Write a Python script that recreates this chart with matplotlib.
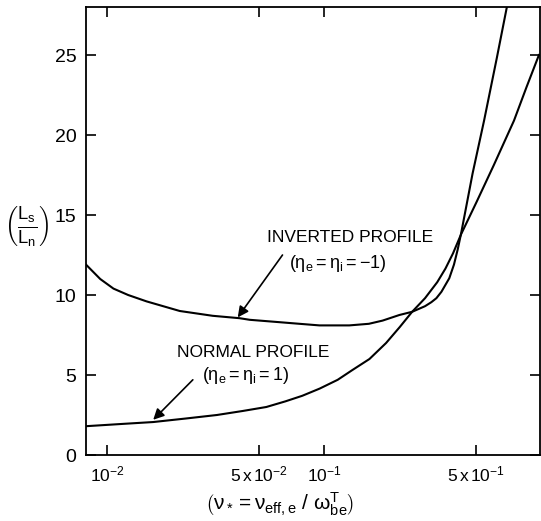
import numpy as np
import matplotlib
matplotlib.use('Agg')
import matplotlib.pyplot as plt
from matplotlib.ticker import NullLocator

plt.rcParams['font.family'] = ['Liberation Sans', 'DejaVu Sans']
plt.rcParams['mathtext.fontset'] = 'custom'
plt.rcParams['mathtext.rm'] = 'Liberation Sans'
plt.rcParams['mathtext.it'] = 'Liberation Sans'
plt.rcParams['mathtext.default'] = 'regular'

# curves
inv_x = [0.0080, 0.0093, 0.0107, 0.0125, 0.0152, 0.0216, 0.0306, 0.0407, 0.0453,
         0.0622, 0.0767, 0.0948, 0.130, 0.160, 0.185, 0.221, 0.253, 0.290, 0.310,
         0.327, 0.345, 0.375, 0.394, 0.410, 0.425, 0.480, 0.542, 0.620, 0.690]
inv_y = [11.9, 11.0, 10.4, 10.0, 9.6, 9.0, 8.7, 8.55, 8.45,
         8.3, 8.2, 8.1, 8.1, 8.2, 8.4, 8.75, 8.95, 9.3, 9.55,
         9.8, 10.2, 11.05, 11.9, 12.85, 13.85, 17.6, 20.9, 24.8, 28.0]

norm_x = [0.0080, 0.0120, 0.0163, 0.0230, 0.032, 0.042, 0.054, 0.066, 0.079,
          0.095, 0.115, 0.134, 0.161, 0.192, 0.222, 0.253, 0.290, 0.330, 0.360,
          0.390, 0.425, 0.50, 0.60, 0.744, 0.85, 0.969]
norm_y = [1.8, 1.95, 2.06, 2.28, 2.5, 2.75, 3.0, 3.35, 3.7,
          4.15, 4.7, 5.3, 6.0, 7.0, 8.0, 8.95, 9.8, 10.8, 11.65,
          12.6, 13.8, 15.8, 18.1, 20.9, 23.0, 25.0]

xticks = [0.01, 0.05, 0.1, 0.5]
xtick_labels = [r'$10^{-2}$', r'$5\,x\,10^{-2}$', r'$10^{-1}$', r'$5\,x\,10^{-1}$']
yticks = [0, 5, 10, 15, 20, 25]

fig = plt.figure(figsize=(5.41, 5.21), dpi=100)
ax = fig.add_axes([86 / 541, 1 - 455 / 521, 454 / 541, 448 / 521])

ax.plot(inv_x, inv_y, color='k', lw=1.5)
ax.plot(norm_x, norm_y, color='k', lw=1.5)

ax.set_xscale('log')
ax.set_xlim(0.0080, 0.98)
ax.set_ylim(0, 28)
ax.set_xticks(xticks)
ax.set_xticklabels(xtick_labels)
ax.xaxis.set_minor_locator(NullLocator())
ax.set_yticks(yticks)
ax.tick_params(direction='in', top=True, right=True, length=7, width=1.2, pad=7)
ax.tick_params(axis='x', labelsize=12.5)
ax.tick_params(axis='y', labelsize=14)
for s in ax.spines.values():
    s.set_linewidth(1.3)

# labels
arrow = dict(arrowstyle='-|>', color='k', lw=1.2, mutation_scale=16,
             shrinkA=0, shrinkB=0)
ax.text(0.0545, 13.6, 'INVERTED PROFILE', fontsize=12.5, ha='left', va='center')
ax.text(0.069, 12.0, r'$(\eta_e = \eta_i = -1)$', fontsize=13, ha='left', va='center')
ax.annotate('', xy=(0.0399, 8.6), xytext=(0.0641, 12.5), arrowprops=arrow)

ax.text(0.0209, 6.4, 'NORMAL PROFILE', fontsize=12.5, ha='left', va='center')
ax.text(0.0273, 4.95, r'$(\eta_e = \eta_i = 1)$', fontsize=13, ha='left', va='center')
ax.annotate('', xy=(0.0163, 2.2), xytext=(0.0248, 4.7), arrowprops=arrow)

fig.text(280 / 541, 1 - 504 / 521, r'$\left(\nu_* = \nu_{eff,e}\ /\ \omega^{T}_{be}\right)$',
         fontsize=15, ha='center', va='center')
fig.text(27 / 541, 1 - 226 / 521, r'$\left(\frac{L_s}{L_n}\right)$',
         fontsize=19, ha='center', va='center')

fig.savefig('out.png', dpi=100)
